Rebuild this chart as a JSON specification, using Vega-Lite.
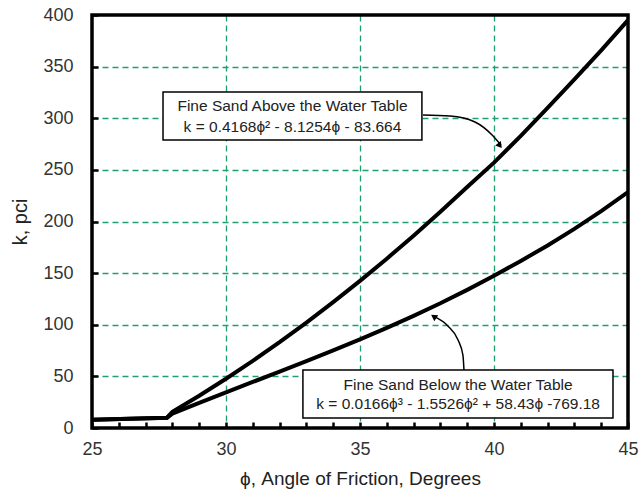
{
  "$schema": "https://vega.github.io/schema/vega-lite/v6.json",
  "width": 536,
  "height": 413,
  "autosize": {"type": "none"},
  "padding": {"left": 92, "top": 15, "right": 12, "bottom": 64},
  "background": "white",
  "config": {
    "view": {"stroke": null},
    "font": "Liberation Sans"
  },
  "datasets": {
    "curves": [
      {"series": "above", "phi": 25, "k": 8},
      {"series": "above", "phi": 27.8, "k": 10},
      {"series": "above", "phi": 28, "k": 15.6},
      {"series": "above", "phi": 29, "k": 31.2},
      {"series": "above", "phi": 30, "k": 47.7},
      {"series": "above", "phi": 31, "k": 65.0},
      {"series": "above", "phi": 32, "k": 83.1},
      {"series": "above", "phi": 33, "k": 102.1},
      {"series": "above", "phi": 34, "k": 121.9},
      {"series": "above", "phi": 35, "k": 142.5},
      {"series": "above", "phi": 36, "k": 164.0},
      {"series": "above", "phi": 37, "k": 186.3},
      {"series": "above", "phi": 38, "k": 209.4},
      {"series": "above", "phi": 39, "k": 233.4},
      {"series": "above", "phi": 40, "k": 257.0},
      {"series": "above", "phi": 41, "k": 283.0},
      {"series": "above", "phi": 42, "k": 310.0},
      {"series": "above", "phi": 43, "k": 337.6},
      {"series": "above", "phi": 44, "k": 365.7},
      {"series": "above", "phi": 45, "k": 395.0},
      {"series": "below", "phi": 25, "k": 8},
      {"series": "below", "phi": 27.8, "k": 10},
      {"series": "below", "phi": 28, "k": 14.0},
      {"series": "below", "phi": 29, "k": 24.4},
      {"series": "below", "phi": 30, "k": 34.6},
      {"series": "below", "phi": 31, "k": 44.6},
      {"series": "below", "phi": 32, "k": 54.7},
      {"series": "below", "phi": 33, "k": 64.8},
      {"series": "below", "phi": 34, "k": 75.1},
      {"series": "below", "phi": 35, "k": 85.9},
      {"series": "below", "phi": 36, "k": 97.0},
      {"series": "below", "phi": 37, "k": 108.6},
      {"series": "below", "phi": 38, "k": 120.8},
      {"series": "below", "phi": 39, "k": 133.8},
      {"series": "below", "phi": 40, "k": 147.5},
      {"series": "below", "phi": 41, "k": 161.8},
      {"series": "below", "phi": 42, "k": 176.8},
      {"series": "below", "phi": 43, "k": 192.8},
      {"series": "below", "phi": 44, "k": 210.0},
      {"series": "below", "phi": 45, "k": 228.5}
    ],
    "frame": [
      {"x": 25, "x2": 45, "y": 0, "y2": 400}
    ],
    "boxes": [
      {"x": 27.65, "x2": 37.31, "y": 325.4, "y2": 278.9},
      {"x": 32.87, "x2": 44.44, "y": 56.2, "y2": 9.7}
    ],
    "labels": [
      {"x": 32.48, "y": 311.5, "text": "Fine Sand Above the Water Table"},
      {"x": 32.48, "y": 292.0, "text": "k = 0.4168ϕ² - 8.1254ϕ - 83.664"},
      {"x": 38.66, "y": 41.6, "text": "Fine Sand Below the Water Table"},
      {"x": 38.66, "y": 23.2, "text": "k = 0.0166ϕ³ - 1.5526ϕ² + 58.43ϕ -769.18"}
    ],
    "arrows": [
      {"a": "top", "i": 0, "x": 37.35, "y": 303.2},
      {"a": "top", "i": 1, "x": 38.36, "y": 302.2},
      {"a": "top", "i": 2, "x": 39.29, "y": 296.4},
      {"a": "top", "i": 3, "x": 39.93, "y": 283.8},
      {"a": "top", "i": 4, "x": 40.26, "y": 274.0},
      {"a": "bot", "i": 0, "x": 38.88, "y": 56.2},
      {"a": "bot", "i": 1, "x": 38.84, "y": 70.7},
      {"a": "bot", "i": 2, "x": 38.66, "y": 85.2},
      {"a": "bot", "i": 3, "x": 38.28, "y": 98.8},
      {"a": "bot", "i": 4, "x": 37.78, "y": 107.8}
    ],
    "heads": [
      {"x": 40.22, "y": 273.5, "angle": 142},
      {"x": 37.75, "y": 108.0, "angle": 304}
    ]
  },
  "layer": [
    {
      "data": {"name": "curves"},
      "mark": {"type": "line", "color": "black", "strokeWidth": 4, "clip": true},
      "encoding": {
        "x": {
          "field": "phi", "type": "quantitative",
          "scale": {"domain": [25, 45], "nice": false, "zero": false},
          "axis": {
            "values": [25,26,27,28,29,30,31,32,33,34,35,36,37,38,39,40,41,42,43,44,45],
            "tickCount": 40,
            "format": "d",
            "labelExpr": "datum.value % 5 === 0 ? datum.label : ''",
            "labelFlush": false,
            "labelOverlap": false,
            "labelFontSize": 18,
            "labelColor": "#333333",
            "labelPadding": 18,
            "tickSize": -6,
            "tickWidth": 2.5,
            "tickColor": "black",
            "domain": false,
            "grid": true,
            "gridColor": "#1f9e6e",
            "gridDash": [6, 4],
            "gridWidth": 1.3,
            "gridOpacity": {"condition": {"test": "datum.value % 5 === 0 && datum.value > 25 && datum.value < 45", "value": 1}, "value": 0},
            "title": "ϕ, Angle of Friction, Degrees",
            "titleFontSize": 19,
            "titleFontWeight": "normal",
            "titleColor": "#222222",
            "titlePadding": 11
          }
        },
        "y": {
          "field": "k", "type": "quantitative",
          "scale": {"domain": [0, 400], "nice": false},
          "axis": {
            "values": [0,50,100,150,200,250,300,350,400],
            "tickCount": 20,
            "format": "d",
            "labelFontSize": 18,
            "labelColor": "#333333",
            "labelPadding": 25,
            "tickSize": -6,
            "tickWidth": 2.5,
            "tickColor": "black",
            "domain": false,
            "grid": true,
            "gridColor": "#1f9e6e",
            "gridDash": [6, 4],
            "gridWidth": 1.3,
            "gridOpacity": {"condition": {"test": "datum.value > 0 && datum.value < 400", "value": 1}, "value": 0},
            "title": "k, pci",
            "titleFontSize": 20,
            "titleFontWeight": "normal",
            "titleColor": "#222222",
            "titlePadding": 12
          }
        },
        "detail": {"field": "series"}
      }
    },
    {
      "data": {"name": "frame"},
      "mark": {"type": "rect", "fill": null, "stroke": "black", "strokeWidth": 3.5},
      "encoding": {
        "x": {"field": "x", "type": "quantitative"},
        "x2": {"field": "x2"},
        "y": {"field": "y", "type": "quantitative"},
        "y2": {"field": "y2"}
      }
    },
    {
      "data": {"name": "boxes"},
      "mark": {"type": "rect", "fill": "white", "stroke": "black", "strokeWidth": 1.5},
      "encoding": {
        "x": {"field": "x", "type": "quantitative"},
        "x2": {"field": "x2"},
        "y": {"field": "y", "type": "quantitative"},
        "y2": {"field": "y2"}
      }
    },
    {
      "data": {"name": "labels"},
      "mark": {"type": "text", "fontSize": 15.5, "color": "#222222", "align": "center", "baseline": "middle"},
      "encoding": {
        "x": {"field": "x", "type": "quantitative"},
        "y": {"field": "y", "type": "quantitative"},
        "text": {"field": "text"}
      }
    },
    {
      "data": {"name": "arrows"},
      "mark": {"type": "line", "color": "black", "strokeWidth": 1.5, "interpolate": "monotone"},
      "encoding": {
        "x": {"field": "x", "type": "quantitative"},
        "y": {"field": "y", "type": "quantitative"},
        "detail": {"field": "a"},
        "order": {"field": "i"}
      }
    },
    {
      "data": {"name": "heads"},
      "mark": {"type": "point", "shape": "triangle-up", "filled": true, "color": "black", "size": 50, "opacity": 1},
      "encoding": {
        "x": {"field": "x", "type": "quantitative"},
        "y": {"field": "y", "type": "quantitative"},
        "angle": {"field": "angle", "type": "quantitative", "scale": null}
      }
    }
  ]
}
